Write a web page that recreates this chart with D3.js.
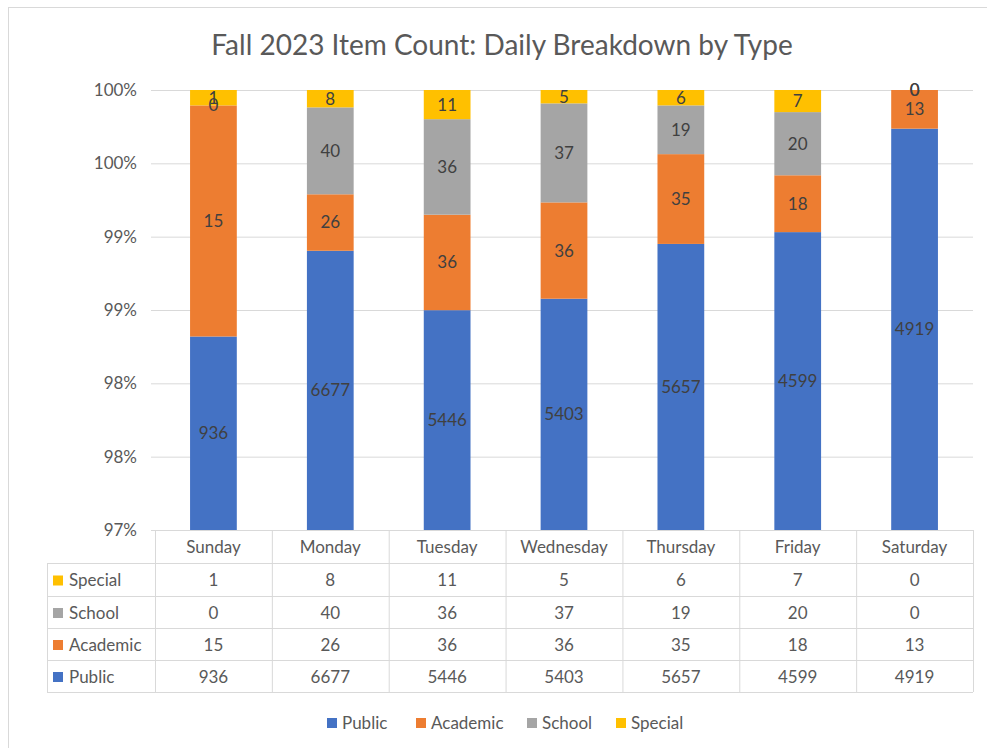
<!DOCTYPE html>
<html>
<head>
<meta charset="utf-8">
<script src="https://cdn.jsdelivr.net/npm/d3@7"></script>
<style>
  html, body { margin: 0; padding: 0; background: #fff; }
  svg { display: block; font-family: Lato, "Open Sans", sans-serif; }
</style>
</head>
<body>
<svg id="chart" width="987" height="748"></svg>
<script>
// ---- data ----
const title = "Fall 2023 Item Count: Daily Breakdown by Type";
const days = ["Sunday", "Monday", "Tuesday", "Wednesday", "Thursday", "Friday", "Saturday"];
const seriesNames = ["Public", "Academic", "School", "Special"];
const publicVals = [936, 6677, 5446, 5403, 5657, 4599, 4919];
const academicVals = [15, 26, 36, 36, 35, 18, 13];
const schoolVals = [0, 40, 36, 37, 19, 20, 0];
const specialVals = [1, 8, 11, 5, 6, 7, 0];
const yTickValues = [0.97, 0.975, 0.98, 0.985, 0.99, 0.995, 1.0];
const yTickLabels = ["97%", "98%", "98%", "99%", "99%", "100%", "100%"];
const colors = ["#4472C4", "#ED7D31", "#A5A5A5", "#FFC000"];

const seriesVals = [publicVals, academicVals, schoolVals, specialVals];

// ---- layout ----
const svg = d3.select("#chart");
const plot = { left: 155, right: 973, top: 90, bottom: 530 };
const tableLeft = 47;
const rowEdges = [530, 563, 596, 628, 660, 692];
const textCol = "#595959";
const lineCol = "#D9D9D9";
const fs = 17;

// border
svg.append("rect").attr("x", 8.5).attr("y", 7.5).attr("width", 990).attr("height", 750)
  .attr("fill", "#fff").attr("stroke", "#D9D9D9");

// title
svg.append("text").attr("x", 502).attr("y", 55).attr("text-anchor", "middle")
  .attr("font-size", 28).attr("fill", textCol).text(title);

const x = d3.scaleBand().domain(days).range([plot.left, plot.right]).paddingInner(0).paddingOuter(0);
const y = d3.scaleLinear().domain([0.97, 1.0]).range([plot.bottom, plot.top]).clamp(true);
const barW = x.bandwidth() * 0.4;

// gridlines
svg.append("g").selectAll("line").data(yTickValues).join("line")
  .attr("x1", plot.left - 4).attr("x2", plot.right)
  .attr("y1", d => y(d) + 0.5).attr("y2", d => y(d) + 0.5)
  .attr("stroke", lineCol).attr("stroke-width", 1);

// y axis labels
const yAxis = d3.axisLeft(y).tickValues(yTickValues)
  .tickFormat((d, i) => yTickLabels[i]).tickSize(0).tickPadding(18);
const yg = svg.append("g").attr("transform", `translate(${plot.left},0)`).call(yAxis);
yg.select(".domain").remove();
yg.selectAll("text").attr("font-size", fs).attr("fill", textCol).attr("font-family", "Lato, sans-serif");

// stack
const tableData = days.map((d, i) => {
  const o = { day: d };
  seriesNames.forEach((s, k) => o[s] = seriesVals[k][i]);
  return o;
});
const stack = d3.stack().keys(seriesNames).offset(d3.stackOffsetExpand);
const stacked = stack(tableData);

const barsG = svg.append("g");
stacked.forEach((layer, k) => {
  barsG.append("g").attr("fill", colors[k]).selectAll("rect").data(layer).join("rect")
    .attr("x", d => x(d.data.day) + (x.bandwidth() - barW) / 2)
    .attr("width", barW)
    .attr("y", d => y(d[1]))
    .attr("height", d => Math.max(0, y(d[0]) - y(d[1])));
});
// labels
stacked.forEach((layer, k) => {
  barsG.append("g").selectAll("text").data(layer).join("text")
    .attr("x", d => x(d.data.day) + x.bandwidth() / 2)
    .attr("y", d => (y(d[0]) + y(d[1])) / 2)
    .attr("dy", "0.35em")
    .attr("text-anchor", "middle")
    .attr("font-size", fs)
    .attr("fill", "#404040")
    .text(d => d.data[layer.key]);
});

// axis line at bottom
svg.append("line").attr("x1", plot.left).attr("x2", plot.right)
  .attr("y1", plot.bottom + 0.5).attr("y2", plot.bottom + 0.5).attr("stroke", lineCol);

// ---- data table ----
const tg = svg.append("g");
rowEdges.forEach((ry, i) => {
  tg.append("line").attr("x1", i === 0 ? plot.left : tableLeft).attr("x2", plot.right)
    .attr("y1", ry + 0.5).attr("y2", ry + 0.5).attr("stroke", lineCol);
});
tg.append("line").attr("x1", tableLeft + 0.5).attr("x2", tableLeft + 0.5)
  .attr("y1", rowEdges[1]).attr("y2", rowEdges[5]).attr("stroke", lineCol);
days.concat(["__end"]).forEach((d) => {
  const vx = d === "__end" ? plot.right : x(d);
  tg.append("line").attr("x1", vx + 0.5).attr("x2", vx + 0.5)
    .attr("y1", rowEdges[0]).attr("y2", rowEdges[5]).attr("stroke", lineCol);
});
tg.selectAll("text.hdr").data(days).join("text").attr("class", "hdr")
  .attr("x", d => x(d) + x.bandwidth() / 2)
  .attr("y", (rowEdges[0] + rowEdges[1]) / 2 + 1)
  .attr("dy", "0.35em").attr("text-anchor", "middle")
  .attr("font-size", fs).attr("fill", textCol).text(d => d);

const rowOrder = [3, 2, 1, 0];
rowOrder.forEach((k, r) => {
  const cy = (rowEdges[r + 1] + rowEdges[r + 2]) / 2 + 1;
  tg.append("rect").attr("x", 53).attr("y", cy - 5).attr("width", 10).attr("height", 10).attr("fill", colors[k]);
  tg.append("text").attr("x", 69).attr("y", cy).attr("dy", "0.35em")
    .attr("font-size", fs).attr("fill", textCol).text(seriesNames[k]);
  tg.selectAll(null).data(days).join("text")
    .attr("x", d => x(d) + x.bandwidth() / 2)
    .attr("y", cy).attr("dy", "0.35em").attr("text-anchor", "middle")
    .attr("font-size", fs).attr("fill", textCol)
    .text((d, i) => seriesVals[k][i]);
});

// ---- legend ----
const lg = svg.append("g");
const legendX = [327, 416, 527, 616];
seriesNames.forEach((s, k) => {
  lg.append("rect").attr("x", legendX[k]).attr("y", 718).attr("width", 10).attr("height", 10).attr("fill", colors[k]);
  lg.append("text").attr("x", legendX[k] + 15).attr("y", 723).attr("dy", "0.35em")
    .attr("font-size", fs).attr("fill", textCol).text(s);
});
</script>
</body>
</html>
